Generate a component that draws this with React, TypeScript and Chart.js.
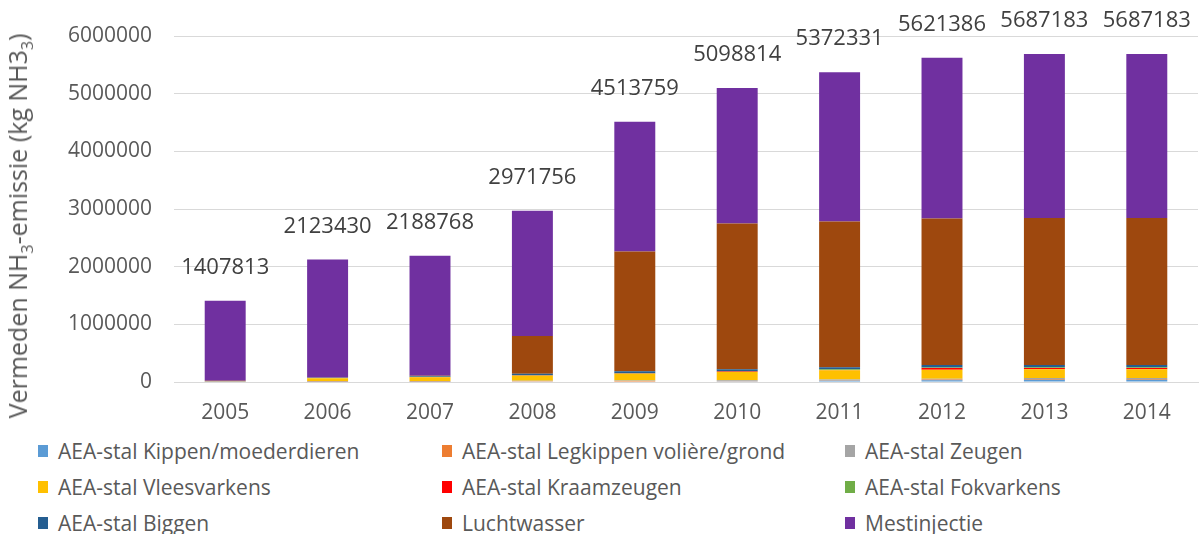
import React, { useEffect, useRef } from "react";
import { Chart, registerables } from "chart.js";

Chart.register(...registerables);

const years = ["2005", "2006", "2007", "2008", "2009", "2010", "2011", "2012", "2013", "2014"];
const totals = [1407813, 2123430, 2188768, 2971756, 4513759, 5098814, 5372331, 5621386, 5687183, 5687183];

const kippen = [3000, 5000, 6000, 8000, 10000, 12000, 20000, 32000, 40000, 40000];
const legkippen = [6000, 8000, 6000, 6000, 6000, 6000, 8000, 10000, 12000, 12000];
const zeugen = [2000, 5000, 6000, 8000, 12000, 14000, 14000, 16000, 18000, 18000];
const vleesvarkens = [8000, 45000, 65000, 88000, 115000, 140000, 160000, 155000, 150000, 150000];
const kraamzeugen = [0, 2000, 2000, 3000, 4000, 8000, 8000, 28000, 22000, 22000];
const fokvarkens = [0, 3000, 8000, 10000, 10000, 10000, 12000, 12000, 12000, 12000];
const biggen = [0, 6000, 12000, 20000, 28000, 30000, 35000, 40000, 40000, 40000];
const luchtwasser = [3000, 3000, 5000, 654000, 2080000, 2530000, 2528000, 2544000, 2548000, 2548000];
const mestinjectie = [1385813, 2046430, 2078768, 2174756, 2248759, 2348814, 2587331, 2784386, 2845183, 2845183];

const seriesNames = [
  "AEA-stal Kippen/moederdieren",
  "AEA-stal Legkippen volière/grond",
  "AEA-stal Zeugen",
  "AEA-stal Vleesvarkens",
  "AEA-stal Kraamzeugen",
  "AEA-stal Fokvarkens",
  "AEA-stal Biggen",
  "Luchtwasser",
  "Mestinjectie",
];
const seriesColors = ["#5B9BD5", "#ED7D31", "#A5A5A5", "#FFC000", "#FF0000", "#70AD47", "#255E91", "#9E480E", "#7030A0"];
const seriesValues = [kippen, legkippen, zeugen, vleesvarkens, kraamzeugen, fokvarkens, biggen, luchtwasser, mestinjectie];

const yTicks = [0, 1000000, 2000000, 3000000, 4000000, 5000000, 6000000];

const FONT = "'Open Sans', 'Noto Sans', sans-serif";
const TEXT = "#595959";

const totalLabels = {
  id: "totalLabels",
  afterDatasetsDraw(chart: any) {
    const ctx = chart.ctx;
    const meta = chart.getDatasetMeta(chart.data.datasets.length - 1);
    const y = chart.scales.y;
    ctx.save();
    ctx.font = `22px ${FONT}`;
    ctx.fillStyle = "#404040";
    ctx.textAlign = "center";
    ctx.textBaseline = "middle";
    meta.data.forEach((bar: any, i: number) => {
      ctx.fillText(String(totals[i]), bar.x, y.getPixelForValue(totals[i]) - 33);
    });
    ctx.restore();
  },
};

export default function App() {
  const ref = useRef<HTMLCanvasElement>(null);
  useEffect(() => {
    if (!ref.current) return;
    const chart = new Chart(ref.current, {
      type: "bar",
      data: {
        labels: years,
        datasets: seriesNames.map((name, i) => ({
          label: name,
          data: seriesValues[i],
          backgroundColor: seriesColors[i],
          borderWidth: 0,
          barPercentage: 0.4,
          categoryPercentage: 1,
        })),
      },
      options: {
        animation: false,
        responsive: false,
        maintainAspectRatio: false,
        layout: { padding: { top: 36, right: 1, left: 0, bottom: 0 } },
        plugins: { legend: { display: false }, tooltip: { enabled: false } },
        scales: {
          x: {
            stacked: true,
            grid: { display: false, drawTicks: false },
            border: { display: true, color: "#D9D9D9" },
            ticks: { color: TEXT, font: { family: FONT, size: 21 }, padding: 18 },
            afterFit: (s: any) => { s.height = 48; },
          },
          y: {
            stacked: true,
            min: 0,
            max: 6000000,
            afterBuildTicks: (s: any) => { s.ticks = yTicks.map((v) => ({ value: v })); },
            grid: { color: "#D9D9D9", drawTicks: false },
            border: { display: false },
            ticks: {
              color: TEXT,
              font: { family: FONT, size: 21 },
              padding: 22,
              callback: (v: any) => String(v),
            },
            afterFit: (s: any) => { s.width = 174; },
          },
        },
      },
      plugins: [totalLabels],
    });
    return () => chart.destroy();
  }, []);

  return (
    <div style={{ position: "absolute", left: 0, top: 0, width: 1199, height: 534, background: "#fff", fontFamily: FONT, overflow: "hidden" }}>
      <canvas ref={ref} width={1199} height={430} style={{ position: "absolute", left: 0, top: 0, width: 1199, height: 430 }} />
      <div
        style={{
          position: "absolute",
          left: 22,
          top: 226,
          transform: "translate(-50%, -50%) rotate(-90deg)",
          whiteSpace: "nowrap",
          fontSize: 25,
          color: TEXT,
          lineHeight: "30px",
        }}
      >
        Vermeden NH<sub style={{ fontSize: 16 }}>3</sub>-emissie (kg NH3<sub style={{ fontSize: 16 }}>3</sub>)
      </div>
      <div
        style={{
          position: "absolute",
          left: 38,
          top: 433,
          display: "grid",
          gridTemplateColumns: "404px 403px 300px",
          gridAutoRows: "36px",
        }}
      >
        {seriesNames.map((name, i) => (
          <div key={name} style={{ display: "flex", alignItems: "center", fontSize: 21, color: TEXT, whiteSpace: "nowrap" }}>
            <span style={{ display: "inline-block", width: 10, height: 12, background: seriesColors[i], marginRight: 10 }} />
            {name}
          </div>
        ))}
      </div>
    </div>
  );
}
